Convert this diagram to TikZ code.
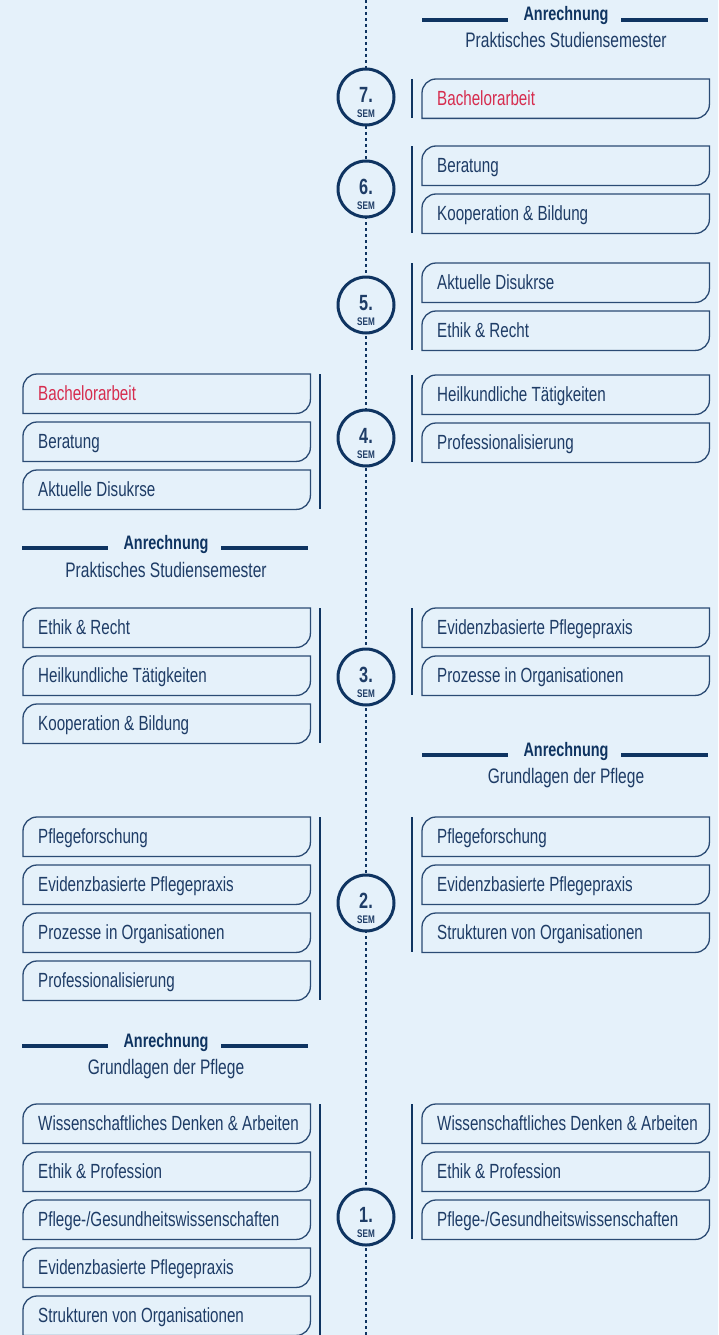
\documentclass[tikz,border=0pt]{standalone}
\usepackage{fontspec}
\setmainfont{Liberation Sans}[FakeStretch=0.74]
\usetikzlibrary{calc}
\definecolor{bg}{HTML}{E5F1FA}
\definecolor{navy}{HTML}{0F3461}
\definecolor{ink}{HTML}{1E3C66}
\definecolor{boxc}{HTML}{2B4B74}
\definecolor{accent}{HTML}{D62C4E}
\tikzset{
 coursebox/.style={minimum width=287pt, minimum height=39pt, inner xsep=15pt, inner ysep=0pt,
   text height=14.5pt, text depth=0pt, anchor=north west, font=\fontsize{20.5}{24}\selectfont, text=ink},
 outline/.style={draw=boxc, line width=1.3pt},
 semcircle/.style={circle, draw=navy, line width=3pt, fill=bg, minimum size=56pt, inner sep=0pt},
 semnum/.style={anchor=base, inner sep=0pt, font=\bfseries\fontsize{22}{24}\selectfont, text=ink},
 semlbl/.style={anchor=base, inner sep=0pt, font=\bfseries\fontsize{11}{12}\selectfont, text=ink},
 groupline/.style={draw=navy, line width=1.5pt},
 spine/.style={draw=navy, line width=2.6pt, dash pattern=on 2.6pt off 3.4pt},
 anr/.style={anchor=base, inner sep=0pt, font=\bfseries\fontsize{19.5}{22}\selectfont, text=navy},
 anrsub/.style={anchor=base, inner sep=0pt, font=\fontsize{21}{24}\selectfont, text=ink},
 anrline/.style={draw=navy, line width=4.8pt},
}
\newcommand\mkcourse[5]{%
 \node[coursebox, text=#5] (#1) at (#2pt,-#3pt) {\makebox[257pt][l]{#4}};
 \draw[outline] (#1.south west) -- ([yshift=-14pt]#1.north west)
   arc[start angle=180, end angle=90, radius=14pt] -- (#1.north east)
   -- ([yshift=14pt]#1.south east) arc[start angle=0, end angle=-90, radius=14pt] -- cycle;
}
\newcommand\mksem[3]{% name, y, number
 \node[semcircle] (#1) at (366pt,-#2pt) {};
 \node[semnum] (#1n) at ([yshift=-5.5pt]#1.center) {#3};
 \node[semlbl] (#1s) at ([yshift=-20.5pt]#1.center) {SEM};
}
\newcommand\mkheading[5]{% name, cx, baseline, subbaseline, subtitle
 \node[anr] (#1) at (#2pt,-#3pt) {Anrechnung};
 \node[anrsub] (#1s) at (#2pt,-#4pt) {#5};
 \draw[anrline] ($(#1.base)+(-144pt,1pt)$) coordinate (#1l1) -- ($(#1.base)+(-58pt,1pt)$) coordinate (#1l2);
 \draw[anrline] ($(#1.base)+(55pt,1pt)$) coordinate (#1r1) -- ($(#1.base)+(142pt,1pt)$) coordinate (#1r2);
}
\newcommand\mkleftgrp[2]{\draw[groupline] ($(#1.north west)+(297pt,0)$) -- ($(#2.south west)+(297pt,0)$);}
\newcommand\mkrightgrp[2]{\draw[groupline] ($(#1.north west)+(-10pt,0)$) -- ($(#2.south west)+(-10pt,0)$);}
\begin{document}
\begin{tikzpicture}[x=1pt,y=1pt]
\fill[bg] (0,0) rectangle (718,-1335);
\useasboundingbox (0,0) rectangle (718,-1335);
\coordinate (spinetop) at (366,0);
\coordinate (spinebot) at (366,-1335);
\draw[spine] (spinetop) -- (spinebot);

% headings
\mkheading{h1}{566}{21}{48}{Praktisches Studiensemester}
\mkheading{h2}{166}{549}{577}{Praktisches Studiensemester}
\mkheading{h3}{566}{756}{783}{Grundlagen der Pflege}
\mkheading{h4}{166}{1047}{1074}{Grundlagen der Pflege}

% right column
\mkcourse{r7a}{422}{79}{Bachelorarbeit}{accent}
\mkcourse{r6a}{422}{146}{Beratung}{ink}
\mkcourse{r6b}{422}{194}{Kooperation \& Bildung}{ink}
\mkcourse{r5a}{422}{263}{Aktuelle Disukrse}{ink}
\mkcourse{r5b}{422}{311}{Ethik \& Recht}{ink}
\mkcourse{r4a}{422}{375}{Heilkundliche Tätigkeiten}{ink}
\mkcourse{r4b}{422}{423}{Professionalisierung}{ink}
\mkcourse{r3a}{422}{608}{Evidenzbasierte Pflegepraxis}{ink}
\mkcourse{r3b}{422}{656}{Prozesse in Organisationen}{ink}
\mkcourse{r2a}{422}{817}{Pflegeforschung}{ink}
\mkcourse{r2b}{422}{865}{Evidenzbasierte Pflegepraxis}{ink}
\mkcourse{r2c}{422}{913}{Strukturen von Organisationen}{ink}
\mkcourse{r1a}{422}{1104}{Wissenschaftliches Denken \& Arbeiten}{ink}
\mkcourse{r1b}{422}{1152}{Ethik \& Profession}{ink}
\mkcourse{r1c}{422}{1200}{Pflege-/Gesundheitswissenschaften}{ink}

% left column
\mkcourse{l4a}{23}{374}{Bachelorarbeit}{accent}
\mkcourse{l4b}{23}{422}{Beratung}{ink}
\mkcourse{l4c}{23}{470}{Aktuelle Disukrse}{ink}
\mkcourse{l3a}{23}{608}{Ethik \& Recht}{ink}
\mkcourse{l3b}{23}{656}{Heilkundliche Tätigkeiten}{ink}
\mkcourse{l3c}{23}{704}{Kooperation \& Bildung}{ink}
\mkcourse{l2a}{23}{817}{Pflegeforschung}{ink}
\mkcourse{l2b}{23}{865}{Evidenzbasierte Pflegepraxis}{ink}
\mkcourse{l2c}{23}{913}{Prozesse in Organisationen}{ink}
\mkcourse{l2d}{23}{961}{Professionalisierung}{ink}
\mkcourse{l1a}{23}{1104}{Wissenschaftliches Denken \& Arbeiten}{ink}
\mkcourse{l1b}{23}{1152}{Ethik \& Profession}{ink}
\mkcourse{l1c}{23}{1200}{Pflege-/Gesundheitswissenschaften}{ink}
\mkcourse{l1d}{23}{1248}{Evidenzbasierte Pflegepraxis}{ink}
\mkcourse{l1e}{23}{1296}{Strukturen von Organisationen}{ink}

% group lines
\mkrightgrp{r7a}{r7a}
\mkrightgrp{r6a}{r6b}
\mkrightgrp{r5a}{r5b}
\mkrightgrp{r4a}{r4b}
\mkrightgrp{r3a}{r3b}
\mkrightgrp{r2a}{r2c}
\mkrightgrp{r1a}{r1c}
\mkleftgrp{l4a}{l4c}
\mkleftgrp{l3a}{l3c}
\mkleftgrp{l2a}{l2d}
\mkleftgrp{l1a}{l1e}

% semesters
\mksem{s7}{97}{7.}
\mksem{s6}{189}{6.}
\mksem{s5}{305}{5.}
\mksem{s4}{438}{4.}
\mksem{s3}{677}{3.}
\mksem{s2}{903}{2.}
\mksem{s1}{1217}{1.}
\end{tikzpicture}
\end{document}
